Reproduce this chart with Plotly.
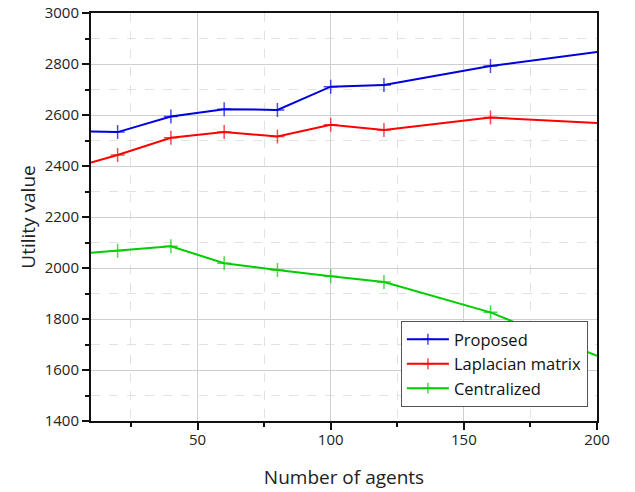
import plotly.graph_objects as go

agents = [10, 20, 40, 60, 80, 100, 120, 160, 200]
proposed = [2535, 2533, 2594, 2623, 2620, 2711, 2718, 2792, 2847]
laplacian = [2414, 2443, 2511, 2533, 2516, 2562, 2541, 2590, 2569]
centralized = [2060, 2068, 2085, 2019, 1992, 1968, 1945, 1826, 1656]

series = [("Proposed", proposed, "#0000dd"),
          ("Laplacian matrix", laplacian, "#ff0000"),
          ("Centralized", centralized, "#00cc00")]

# markers at the very ends of the axis are hidden in the original
msize = [0] + [10] * (len(agents) - 2) + [0]

fig = go.Figure()
for name, vals, col in series:
    fig.add_trace(go.Scatter(
        x=agents, y=vals, name=name, mode="lines+markers",
        line=dict(color=col, width=2),
        marker=dict(symbol="cross-thin", size=msize, line=dict(color=col, width=1.5)),
        cliponaxis=True,
    ))

FONT = "Open Sans"
axis_common = dict(
    showline=True, linecolor="#111", linewidth=2, mirror=True,
    ticks="outside", ticklen=7, tickwidth=1.5, tickcolor="#111",
    showgrid=True, gridcolor="#cfcfcf", gridwidth=1,
    tickfont=dict(family=FONT, size=15, color="#222"),
    zeroline=False, automargin=False, ticklabeloverflow="allow",
)

fig.update_xaxes(
    range=[10, 200], tickvals=[50, 100, 150, 200], **axis_common,
    ticklabelstandoff=-3,
    minor=dict(tickvals=[25, 75, 125, 175], ticks="outside", ticklen=4,
               tickcolor="#111", showgrid=True, gridcolor="#e2e2e2",
               griddash="dash"),
    title=dict(text="Number of agents", font=dict(family=FONT, size=19, color="#222"),
               standoff=23),
)
fig.update_yaxes(
    range=[1400, 3000], dtick=200, **axis_common,
    minor=dict(dtick=100, ticks="outside", ticklen=4, tickcolor="#111",
               showgrid=True, gridcolor="#e2e2e2", griddash="dash"),
    title=dict(text="Utility value", font=dict(family=FONT, size=19, color="#222"),
               standoff=4),
)

fig.update_layout(
    width=635, height=492,
    margin=dict(l=91, r=38, t=13, b=71),
    paper_bgcolor="white", plot_bgcolor="white",
    legend=dict(x=0.982, y=0.245, xanchor="right", yanchor="top",
                bgcolor="white", bordercolor="#555", borderwidth=1,
                font=dict(family=FONT, size=16.5, color="#111"),
                tracegroupgap=0, itemwidth=42),
)

fig.write_html("out.html", config={"displayModeBar": False},
               post_script="document.body.style.margin='0';")
